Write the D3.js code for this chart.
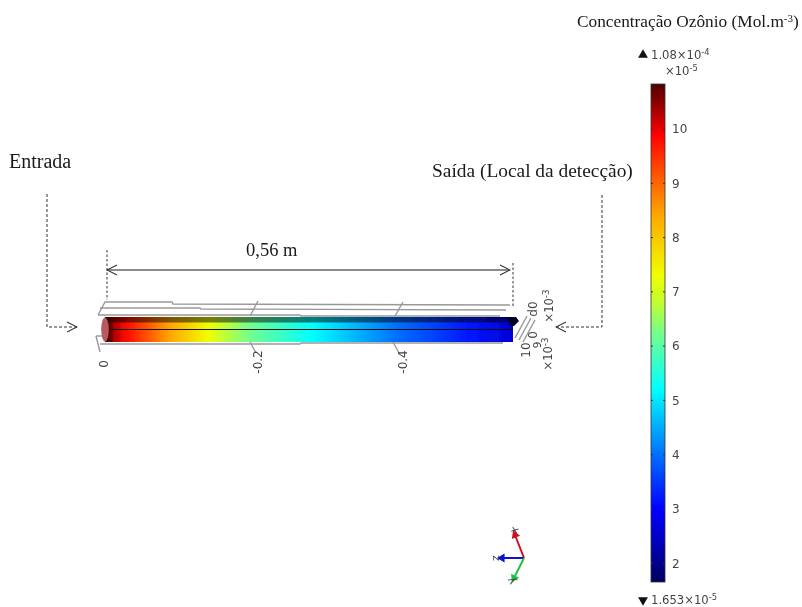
<!DOCTYPE html>
<html>
<head>
<meta charset="utf-8">
<script src="https://cdn.jsdelivr.net/npm/d3@7"></script>
<style>
  body { margin: 0; background: #fff; }
  svg { display: block; filter: blur(0.35px); }
  .serif { font-family: "Liberation Serif", serif; fill: #1a1a1a; }
  .sans { font-family: "DejaVu Sans", sans-serif; fill: #444; }
</style>
</head>
<body>
<script>
// colour table of the legend (x10^-5 mol/m3)
const colorValues = [1.653, 2.4, 3.0, 4.0, 5.2, 6.2, 6.8, 7.3, 8.4, 9.2, 9.9, 10.3, 10.83];
const colorStops = ["#000060", "#0000c0", "#0000ff", "#0070ff", "#00ffff", "#70ff90", "#c0ff30", "#f0ff00", "#ffa800", "#ff5000", "#ff0000", "#b00000", "#500000"];
const legendTicks = [2, 3, 4, 5, 6, 7, 8, 9, 10];

// concentration along the tube
const tubePos = [0, 0.008, 0.03, 0.09, 0.142, 0.2, 0.285, 0.4, 0.5, 0.56];
const tubeConc = [10.8, 10.4, 9.8, 8.4, 7.3, 6.2, 5.2, 4.0, 3.2, 2.6];

// axis labels on the tube
const axisTicks = [0, -0.2, -0.4];

const w = 802;
const h = 607;

const svg = d3.select("body").append("svg").attr("width", w).attr("height", h);
const defs = svg.append("defs");

const colorScale = d3.scaleLinear().domain(colorValues).range(colorStops);
const yLegend = d3.scaleLinear().domain([1.653, 10.83]).range([582, 84]);
const xTube = d3.scaleLinear().domain([0, 0.56]).range([105, 513]);
const xAxisPos = d3.scaleLinear().domain(axisTicks).range([108, 262, 407]);

defs.append("filter").attr("id", "soft")
  .append("feGaussianBlur").attr("stdDeviation", 0.4);

// arrow heads
defs.append("marker")
  .attr("id", "open").attr("viewBox", "0 0 12 12")
  .attr("refX", 11).attr("refY", 6)
  .attr("markerWidth", 12).attr("markerHeight", 12)
  .attr("markerUnits", "userSpaceOnUse")
  .attr("orient", "auto-start-reverse")
  .append("path").attr("d", "M1,1L11,6L1,11")
  .attr("fill", "none").attr("stroke", "#333").attr("stroke-width", 1.1);

// legend gradient
const legendGrad = defs.append("linearGradient")
  .attr("id", "legendGrad").attr("x1", 0).attr("x2", 0).attr("y1", 1).attr("y2", 0);
legendGrad.selectAll("stop").data(colorValues).enter().append("stop")
  .attr("offset", (d) => (d - 1.653) / (10.83 - 1.653))
  .attr("stop-color", (d) => colorScale(d));

// tube gradient
const tubeGrad = defs.append("linearGradient").attr("id", "tubeGrad");
tubeGrad.selectAll("stop").data(tubePos).enter().append("stop")
  .attr("offset", (d) => d / 0.56)
  .attr("stop-color", (d, i) => colorScale(tubeConc[i]));

// legend
const legend = svg.append("g");
legend.append("rect")
  .attr("x", 651).attr("width", 14)
  .attr("y", yLegend(10.83)).attr("height", yLegend(1.653) - yLegend(10.83))
  .attr("fill", "url(#legendGrad)")
  .attr("stroke", "#333").attr("stroke-width", 0.8);

const legendAxis = legend.append("g")
  .attr("transform", "translate(665,0)")
  .call(d3.axisRight(yLegend).tickValues(legendTicks).tickSize(0).tickPadding(7));
legendAxis.select(".domain").remove();
legendAxis.selectAll("text")
  .attr("class", "sans")
  .style("font-family", "'DejaVu Sans', sans-serif")
  .style("font-size", "12px")
  .attr("fill", "#444");

legend.selectAll("line.tk").data(legendTicks).enter().append("line")
  .attr("class", "tk")
  .attr("x1", 651).attr("x2", 653)
  .attr("y1", (d) => yLegend(d)).attr("y2", (d) => yLegend(d))
  .attr("stroke", "#333");
legend.selectAll("line.tk2").data(legendTicks).enter().append("line")
  .attr("class", "tk2")
  .attr("x1", 663).attr("x2", 665)
  .attr("y1", (d) => yLegend(d)).attr("y2", (d) => yLegend(d))
  .attr("stroke", "#333");

// max / min markers
svg.append("path").attr("d", d3.symbol(d3.symbolTriangle, 42))
  .attr("transform", "translate(643,55)").attr("fill", "#111");
svg.append("path").attr("d", d3.symbol(d3.symbolTriangle, 42))
  .attr("transform", "translate(643,600) rotate(180)").attr("fill", "#111");

function sciText(x, y, base, sup, size) {
  const t = svg.append("text").attr("class", "sans")
    .attr("x", x).attr("y", y).style("font-size", size + "px");
  t.append("tspan").text(base);
  t.append("tspan").attr("dy", -4).style("font-size", size * 0.72 + "px").text(sup);
  return t;
}
sciText(651, 59, "1.08×10", "-4", 11.6);
sciText(665, 75, "×10", "-5", 11.6);
sciText(651, 604, "1.653×10", "-5", 11.6);

// title
const title = svg.append("text").attr("class", "serif")
  .attr("x", 577).attr("y", 27).style("font-size", "17.3px");
title.append("tspan").text("Concentração Ozônio (Mol.m");
title.append("tspan").attr("dy", -5).style("font-size", "11px").text("-3");
title.append("tspan").attr("dy", 5).text(")");

// annotations
svg.append("text").attr("class", "serif").attr("x", 9).attr("y", 168)
  .style("font-size", "20px").text("Entrada");
svg.append("text").attr("class", "serif").attr("x", 432).attr("y", 177)
  .style("font-size", "19.4px").text("Saída (Local da detecção)");
svg.append("text").attr("class", "serif").attr("x", 246).attr("y", 256)
  .style("font-size", "18.5px").text("0,56 m");

const dashed = [
  [[47, 194], [47, 327], [77, 327]],
  [[602, 195], [602, 327], [556, 327]],
];
svg.selectAll("path.lead").data(dashed).enter().append("path")
  .attr("class", "lead")
  .attr("d", d3.line())
  .attr("fill", "none").attr("stroke", "#333")
  .attr("stroke-dasharray", "3,2")
  .attr("marker-end", "url(#open)");

// 0,56 m dimension
svg.append("line")
  .attr("x1", xTube(0) + 2).attr("x2", xTube(0.56) - 3)
  .attr("y1", 270).attr("y2", 270)
  .attr("stroke", "#666").attr("stroke-width", 1.6)
  .attr("marker-start", "url(#open)").attr("marker-end", "url(#open)");
svg.append("line").attr("x1", xTube(0) + 2).attr("x2", xTube(0) + 2)
  .attr("y1", 250).attr("y2", 300)
  .attr("stroke", "#333").attr("stroke-dasharray", "2.5,2");
svg.append("line").attr("x1", xTube(0.56)).attr("x2", xTube(0.56))
  .attr("y1", 263).attr("y2", 307)
  .attr("stroke", "#333").attr("stroke-dasharray", "2.5,2");

// grid box around the tube
const frame = svg.append("g").attr("fill", "none").attr("stroke", "#999")
  .attr("stroke-width", 1.4).attr("filter", "url(#soft)");
const frameLines = [
  [[98, 315], [105, 302], [172, 302], [173, 304], [510, 305]],
  [[100, 308], [200, 308], [201, 309], [506, 310]],
  [[98, 315], [300, 315], [301, 316], [500, 316]],
  [[100, 344], [300, 344], [301, 343], [503, 343]],
  [[258, 301], [250, 316]],
  [[403, 302], [395, 316]],
  [[250, 342], [256, 353]],
  [[393, 342], [399, 353]],
  [[96, 336], [100, 352]],
  [[96, 336], [105, 336]],
  [[515, 338], [527, 316]],
  [[519, 340], [531, 318]],
  [[523, 342], [535, 320]],
];
frame.selectAll("path").data(frameLines).enter().append("path")
  .attr("d", d3.line());

// tube
const tube = svg.append("g").attr("filter", "url(#soft)");
tube.append("rect")
  .attr("x", xTube(0)).attr("width", xTube(0.56) - xTube(0))
  .attr("y", 317).attr("height", 25)
  .attr("fill", "url(#tubeGrad)");
// dark upper band
tube.append("rect")
  .attr("x", xTube(0)).attr("width", xTube(0.56) - xTube(0))
  .attr("y", 317).attr("height", 5.5)
  .attr("fill", "#000").attr("opacity", 0.5);
tube.append("line")
  .attr("x1", xTube(0)).attr("x2", xTube(0.56))
  .attr("y1", 329.5).attr("y2", 329.5)
  .attr("stroke", "#111").attr("stroke-width", 1);
// shaded inlet
tube.append("rect")
  .attr("x", xTube(0)).attr("width", 8)
  .attr("y", 317).attr("height", 25)
  .attr("fill", "#300").attr("opacity", 0.45);
tube.append("ellipse")
  .attr("cx", 105).attr("cy", 329.5).attr("rx", 3.8).attr("ry", 12)
  .attr("fill", "#b85a62");
// outlet tip
tube.append("path")
  .attr("d", d3.line()([[508, 317], [516, 317], [519, 321], [514, 326], [510, 326]]))
  .attr("fill", "#000028");

// rotated tick labels
svg.selectAll("text.axisLab").data(axisTicks).enter().append("text")
  .attr("class", "axisLab sans")
  .attr("text-anchor", "middle")
  .style("font-size", "12px")
  .attr("transform", (d) => "translate(" + xAxisPos(d) + "," + (d === 0 ? 364 : 362) + ") rotate(-90)")
  .text((d) => d);

function rotText(x, y, parts, size) {
  const t = svg.append("text").attr("class", "sans")
    .attr("transform", "translate(" + x + "," + y + ") rotate(-90)")
    .attr("text-anchor", "middle")
    .style("font-size", size + "px");
  parts.forEach((p) => {
    const s = t.append("tspan").text(p.t);
    if (p.dy) s.attr("dy", p.dy);
    if (p.small) s.style("font-size", size * 0.75 + "px");
  });
}
rotText(537, 309, [{ t: "d0" }], 12);
rotText(553, 306, [{ t: "×10" }, { t: "-3", dy: -4, small: true }], 11.5);
rotText(530, 350, [{ t: "10" }], 12);
rotText(537, 335, [{ t: "0" }], 12);
rotText(541, 345, [{ t: "9" }], 11);
rotText(552, 354, [{ t: "×10" }, { t: "-3", dy: -4, small: true }], 11.5);

// coordinate triad
const triad = [
  { c: "#d01020", to: [515, 535], lab: "x", at: [514, 530], r: -70 },
  { c: "#1010d0", to: [502, 558], lab: "z", at: [495, 558], r: -90 },
  { c: "#20c040", to: [514, 578], lab: "y", at: [511, 581], r: -120 },
];
triad.forEach((a) => {
  svg.append("line")
    .attr("x1", 524).attr("y1", 558).attr("x2", a.to[0]).attr("y2", a.to[1])
    .attr("stroke", a.c).attr("stroke-width", 2);
  const ang = Math.atan2(a.to[1] - 558, a.to[0] - 524) * 180 / Math.PI;
  svg.append("path").attr("d", d3.symbol(d3.symbolTriangle, 34))
    .attr("transform", "translate(" + a.to[0] + "," + a.to[1] + ") rotate(" + (ang + 90) + ")")
    .attr("fill", a.c);
  svg.append("text").attr("class", "sans")
    .attr("transform", "translate(" + a.at[0] + "," + a.at[1] + ") rotate(" + a.r + ")")
    .attr("text-anchor", "middle").attr("dy", "0.35em")
    .style("font-size", "11px").text(a.lab);
});
</script>
</body>
</html>
